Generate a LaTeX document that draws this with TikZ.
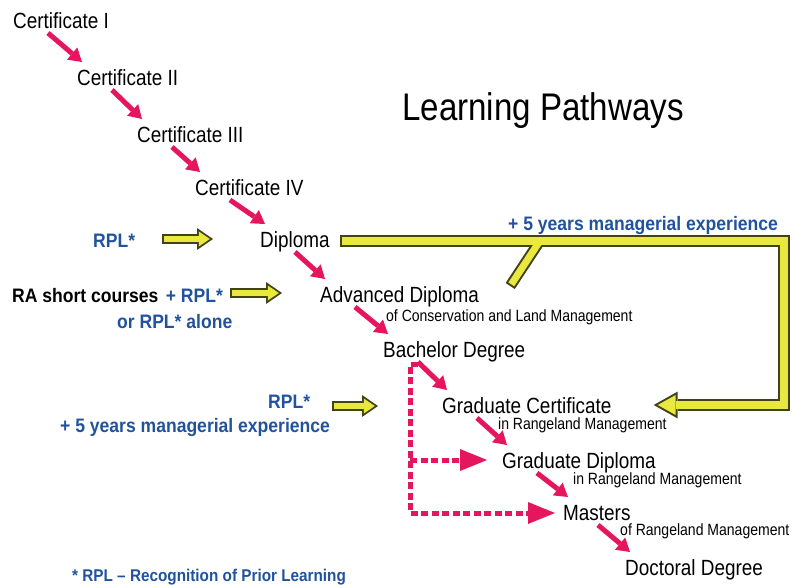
\documentclass[tikz,border=0pt]{standalone}
\usepackage{fontspec}
\setmainfont{Liberation Sans}[FakeStretch=0.86]
\newfontfamily\rplfont{Liberation Sans}[FakeStretch=0.9]
\usepackage{tikz}
\usetikzlibrary{arrows.meta,positioning,calc}
\definecolor{pathred}{RGB}{229,22,94}
\definecolor{rplblue}{RGB}{32,82,158}
\definecolor{feedfill}{RGB}{232,232,62}
\definecolor{feedline}{RGB}{66,66,24}
\tikzstyle{stage} = [anchor=base west, inner sep=0pt, font=\fontsize{22}{25}\selectfont]
\tikzstyle{field} = [anchor=base west, inner sep=0pt, font=\fontsize{16.3}{18}\selectfont]
\tikzstyle{rpl} = [anchor=base west, inner sep=0pt, text=rplblue, font=\rplfont\fontsize{19.5}{22}\selectfont\bfseries]
\tikzstyle{redarrow} = [draw=pathred, line width=5pt, -{Triangle[length=13pt,width=16pt,line width=0pt]}]
\tikzstyle{dashedarrow} = [draw=pathred, line width=5pt, dash pattern=on 7pt off 3.5pt, -{Triangle[length=27pt,width=22pt,line width=0pt]}]
\tikzstyle{feedout} = [draw=feedline, line width=11pt, line join=miter]
\tikzstyle{feedin} = [draw=feedfill, line width=7pt, line join=miter]
\tikzstyle{entry} = [feedout, line width=10pt, -{Triangle[length=16pt,width=22pt,line width=0pt]},
  postaction={feedin, line width=6.4pt, -{Triangle[length=11pt,width=15pt,line width=0pt]}, shorten >=3.2pt, shorten <=1.8pt}]
\tikzstyle{credit} = [draw=feedline, line width=12pt, line join=miter, -{Triangle[length=24pt,width=27pt,line width=0pt]},
  postaction={feedin, line width=8pt, -{Triangle[length=18pt,width=20pt,line width=0pt]}, shorten >=4pt, shorten <=2pt}]
\begin{document}
\begin{tikzpicture}[x=1pt, y=-1pt]
  \useasboundingbox (0,0) rectangle (795,584);
  % qualification ladder
  \node (certi) [stage] at (13,28) {Certificate I};
  \node (certii) [stage] at (77,85) {Certificate II};
  \node (certiii) [stage] at (137,142) {Certificate III};
  \node (certiv) [stage] at (195,195) {Certificate IV};
  \node (dipl) [stage] at (260,247) {Diploma};
  \node (adip) [stage] at (320,302) {Advanced Diploma};
  \node (adipsub) [field] at (386,321) {of Conservation and Land Management};
  \node (bach) [stage] at (383,357) {Bachelor Degree};
  \node (gcert) [stage] at (442,413) {Graduate Certificate};
  \node (gcertsub) [field] at (498,429) {in Rangeland Management};
  \node (gdip) [stage] at (502,468) {Graduate Diploma};
  \node (gdipsub) [field] at (573,484) {in Rangeland Management};
  \node (mast) [stage] at (563,520) {Masters};
  \node (mastsub) [field] at (620,535) {of Rangeland Management};
  \node (doct) [stage] at (625,575) {Doctoral Degree};
  \node (title) [stage, font=\fontsize{38.5}{42}\selectfont] at (402,120) {Learning Pathways};

  % entry routes
  \node (rpla) [rpl] at (93,247) {RPL*};
  \node (rashort) [rpl, text=black] at (12,302) {RA short courses};
  \node (rplb) [rpl, base right=7pt of rashort] {+ RPL*};
  \node (rplalone) [rpl] at (117,328) {or RPL* alone};
  \node (rplc) [rpl] at (268,408) {RPL*};
  \node (expb) [rpl] at (60,432) {+ 5 years managerial experience};
  \node (expa) [rpl] at (508,230) {+ 5 years managerial experience};
  \node (note) [rpl, font=\rplfont\fontsize{17}{20}\selectfont\bfseries] at (72,581) {* RPL – Recognition of Prior Learning};

  \foreach \a/\b in {certi/certii, certii/certiii, certiii/certiv, certiv/dipl, dipl/adip,
                     adip/bach, bach/gcert, gcert/gdip, gdip/mast, mast/doct}
    \draw [redarrow] ([shift={(35pt,-5pt)}]\a.base west) -- ([shift={(5pt,23pt)}]\b.base west);

  % direct entry from the bachelor degree
  \coordinate (spine) at ([xshift=27pt]bach.base west);
  \coordinate (gtip) at ([shift={(-15pt,8pt)}]gdip.base west);
  \coordinate (mtip) at ([shift={(-8pt,7pt)}]mast.base west);
  \draw [dashedarrow] ([shift={(35pt,-7pt)}]bach.base west) -| (spine |- mtip) -- (mtip);
  \draw [dashedarrow] (spine |- gtip) -- (gtip);

  \draw [entry] ([shift={(27pt,8pt)}]rpla.base east) -- ([shift={(-47pt,8pt)}]dipl.base west);
  \draw [entry] ([shift={(7pt,9pt)}]rplb.base east) -- ([shift={(-38pt,9pt)}]adip.base west);
  \draw [entry] ([shift={(22pt,2pt)}]rplc.base east) -- ([shift={(-64pt,7pt)}]gcert.base west);

  % diploma / advanced diploma + experience into the graduate certificate
  \coordinate (join) at ([shift={(210pt,6pt)}]dipl.base east);
  \coordinate (turn) at ([shift={(172pt,8pt)}]gcert.base east);
  \draw [feedout] ([shift={(31pt,16pt)}]adip.base east) -- (join);
  \draw [credit] ([shift={(10pt,6pt)}]dipl.base east) -| (turn) -- ([shift={(42pt,8pt)}]gcert.base east);
  \draw [feedin, shorten <=2pt] ([shift={(31pt,16pt)}]adip.base east) -- (join);
\end{tikzpicture}
\end{document}
